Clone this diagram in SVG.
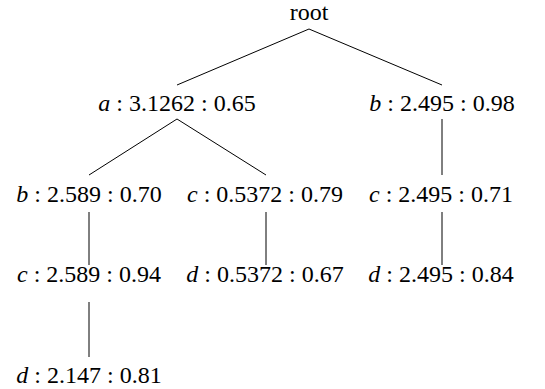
<svg xmlns="http://www.w3.org/2000/svg" width="545" height="389" viewBox="0 0 545 389">
  <style>
    text { font-family: "Liberation Serif", "DejaVu Serif", serif; font-size: 24px; fill: #000; text-anchor: middle; }
    .v { font-style: italic; }
    #edges line { stroke: #000; stroke-width: 1; }
  </style>
  <rect width="545" height="389" fill="#fff"/>
  <!-- tree edges -->
  <g id="edges">
    <line x1="309" y1="29" x2="177" y2="85"/>
    <line x1="309" y1="29" x2="442" y2="85"/>
    <line x1="177" y1="119" x2="89" y2="175"/>
    <line x1="177" y1="119" x2="266" y2="175"/>
    <line x1="442" y1="119" x2="442" y2="175"/>
    <line x1="89" y1="212" x2="89" y2="265"/>
    <line x1="266" y1="212" x2="266" y2="265"/>
    <line x1="442" y1="212" x2="442" y2="265"/>
    <line x1="89" y1="302" x2="89" y2="357"/>
  </g>
  <!-- nodes: item : value : ratio -->
  <g id="root"><text x="309" y="20">root</text></g>
  <g id="n-a"><text x="177" y="111"><tspan class="v">a</tspan> : 3.1262 : 0.65</text></g>
  <g id="n-b"><text x="442" y="111"><tspan class="v">b</tspan> : 2.495 : 0.98</text></g>
  <g id="n-ab"><text x="89" y="202"><tspan class="v">b</tspan> : 2.589 : 0.70</text></g>
  <g id="n-ac"><text x="265" y="202"><tspan class="v">c</tspan> : 0.5372 : 0.79</text></g>
  <g id="n-bc"><text x="441" y="202"><tspan class="v">c</tspan> : 2.495 : 0.71</text></g>
  <g id="n-abc"><text x="89" y="282"><tspan class="v">c</tspan> : 2.589 : 0.94</text></g>
  <g id="n-acd"><text x="265" y="282"><tspan class="v">d</tspan> : 0.5372 : 0.67</text></g>
  <g id="n-bcd"><text x="441" y="282"><tspan class="v">d</tspan> : 2.495 : 0.84</text></g>
  <g id="n-abcd"><text x="89" y="383"><tspan class="v">d</tspan> : 2.147 : 0.81</text></g>
</svg>
